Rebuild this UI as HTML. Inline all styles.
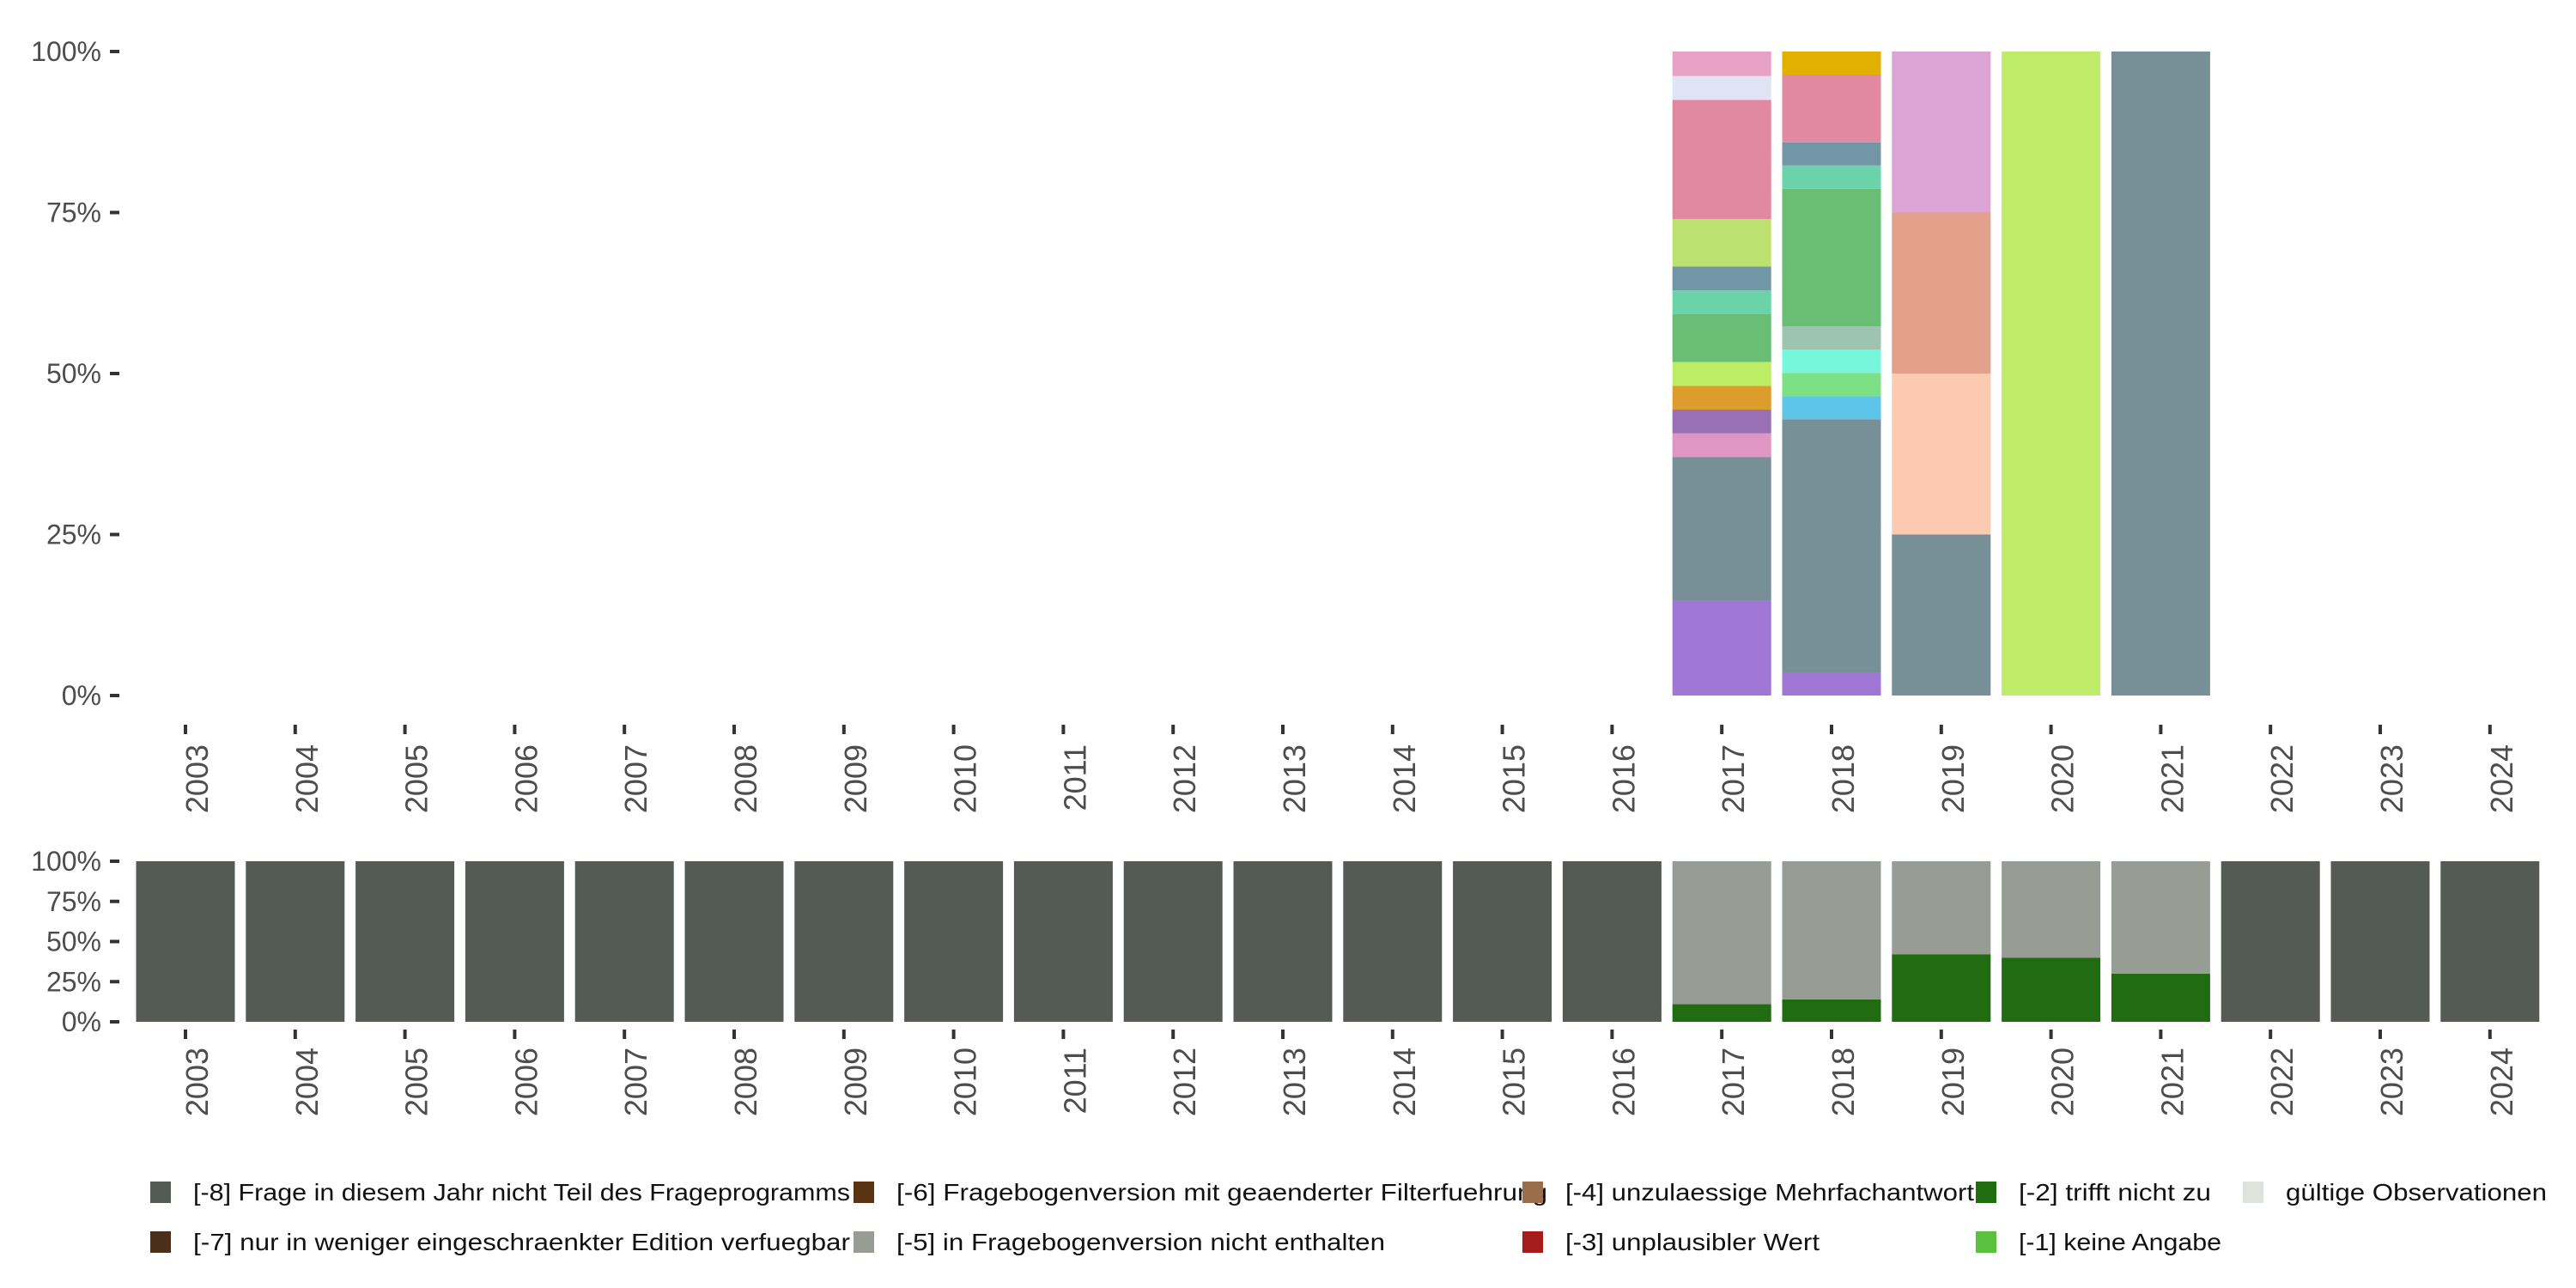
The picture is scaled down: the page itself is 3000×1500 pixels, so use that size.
<!DOCTYPE html>
<html><head><meta charset="utf-8"><style>
html,body{margin:0;padding:0;background:#fff;}
svg{display:block;font-family:"Liberation Sans",sans-serif;}
</style></head><body>
<svg id="chart" width="3000" height="1500" xmlns="http://www.w3.org/2000/svg">
<g id="top"></g>
<g id="bottom"></g>
<g id="legend"></g>
</svg>
<script>
const years = ["2003","2004","2005","2006","2007","2008","2009","2010","2011","2012","2013","2014","2015","2016","2017","2018","2019","2020","2021","2022","2023","2024"];
const yTicks = [0,25,50,75,100];
const yTickLabels = ["0%","25%","50%","75%","100%"];
// top panel: stacked segments (bottom -> top) for each year with data
const topYears = ["2017","2018","2019","2020","2021"];
const top2017 = [14.8,22.2,3.7,3.7,3.7,3.7,7.4,3.7,3.7,7.4,18.5,3.7,3.8];
const top2018 = [3.6,39.3,3.6,3.6,3.6,3.6,21.4,3.6,3.6,10.5,3.6];
const top2019 = [25,25,25,25];
const top2020 = [100];
const top2021 = [100];
const col2017 = ["#a077d4","#778f97","#e096c4","#9970b3","#dc9d2d","#bded65","#6abd74","#6ad3a9","#7196a6","#bde16f","#e089a1","#e0e3f3","#e6a1c4"];
const col2018 = ["#a077d4","#778f97","#5dc5e8","#7ee085","#77f6de","#9dc4b0","#6abd74","#6ad3a9","#7196a6","#e089a1","#e2b000"];
const col2019 = ["#778f97","#fccab0","#e3a08b","#dca4d4"];
const col2020 = ["#bfed69"];
const col2021 = ["#778f97"];
// bottom panel: [-2] trifft nicht zu share, [-5] share, [-8] share
const botNotApplicable = [0,0,0,0,0,0,0,0,0,0,0,0,0,0,11,14,42,40,30,0,0,0];
const botNotInVersion = [0,0,0,0,0,0,0,0,0,0,0,0,0,0,89,86,58,60,70,0,0,0];
const botNotInProgram = [100,100,100,100,100,100,100,100,100,100,100,100,100,100,0,0,0,0,0,100,100,100];
const legendLabels = ["[-8] Frage in diesem Jahr nicht Teil des Frageprogramms","[-7] nur in weniger eingeschraenkter Edition verfuegbar","[-6] Fragebogenversion mit geaenderter Filterfuehrung","[-5] in Fragebogenversion nicht enthalten","[-4] unzulaessige Mehrfachantwort","[-3] unplausibler Wert","[-2] trifft nicht zu","[-1] keine Angabe","gültige Observationen"];
const legendColors = ["#545b55","#4a301a","#5a3412","#979c94","#9a6e4a","#a61c1c","#216c10","#5bbf40","#e0e2de"];

const NS="http://www.w3.org/2000/svg";
function mk(tag,attrs,parent){const e=document.createElementNS(NS,tag);for(const k in attrs)e.setAttribute(k,attrs[k]);parent.appendChild(e);return e;}
const x0=216, step=127.8, bw=115;
function xScale(i){return x0+i*step;}
function yTop(v){return 810-v*7.5;}
function yBot(v){return 1190-v*1.87;}

function axes(g,yf,tickY,labY){
  yTicks.forEach((t,i)=>{
    const l=mk('line',{x1:128,x2:139,y1:yf(t),y2:yf(t),stroke:'#333',"stroke-width":4},g);
    
    
    const tx=mk('text',{x:118,y:yf(t)+11,"text-anchor":"end","font-size":32,fill:'#4d4d4d'},g);
    
    
    tx.textContent=yTickLabels[i];
  });
  years.forEach((yr,i)=>{
    const x=xScale(i);
    const l=mk('line',{x1:x,x2:x,y1:tickY,y2:tickY+11,stroke:'#333',"stroke-width":4},g);
    
    
    const tx=mk('text',{x:0,y:0,"text-anchor":"end","font-size":36,fill:'#4d4d4d',transform:`translate(${x+26},${labY}) rotate(-90)`},g);
    
    
    tx.textContent=yr;
  });
}
const topG=document.getElementById('top');
const topData=[top2017,top2018,top2019,top2020,top2021];
const topCols=[col2017,col2018,col2019,col2020,col2021];
topYears.forEach((yr,k)=>{
  const i=years.indexOf(yr);let cum=0;
  topData[k].forEach((v,j)=>{
    const r=mk('rect',{x:xScale(i)-bw/2,y:yTop(cum+v),width:bw,height:yTop(cum)-yTop(cum+v),fill:topCols[k][j]},topG);
    
    
    cum+=v;
  });
});
axes(topG,yTop,844,867);
const botG=document.getElementById('bottom');
years.forEach((yr,i)=>{
  const segs=[[botNotApplicable[i],'#216c10'],[botNotInVersion[i],'#979c94'],[botNotInProgram[i],'#545b55']];
  let cum=0;
  segs.forEach(([v,c])=>{
    if(v<=0)return;
    const r=mk('rect',{x:xScale(i)-bw/2,y:yBot(cum+v),width:bw,height:yBot(cum)-yBot(cum+v),fill:c},botG);
    
    
    cum+=v;
  });
});
axes(botG,yBot,1199,1220);
const lg=document.getElementById('legend');
const lx=[175,175,994,994,1773,1773,2301,2301,2612];
const ly=[1376,1434,1376,1434,1376,1434,1376,1434,1376];
const lw=[765,765,758,569,476,296,224,236,304];
legendLabels.forEach((t,i)=>{
  const r=mk('rect',{x:lx[i],y:ly[i],width:24,height:25,fill:legendColors[i]},lg);
  
  
  const tx=mk('text',{x:lx[i]+50,y:ly[i]+22,"font-size":28,fill:'#111',textLength:lw[i],lengthAdjust:"spacingAndGlyphs"},lg);
  
  
  tx.textContent=t;
});
</script>
</body></html>
